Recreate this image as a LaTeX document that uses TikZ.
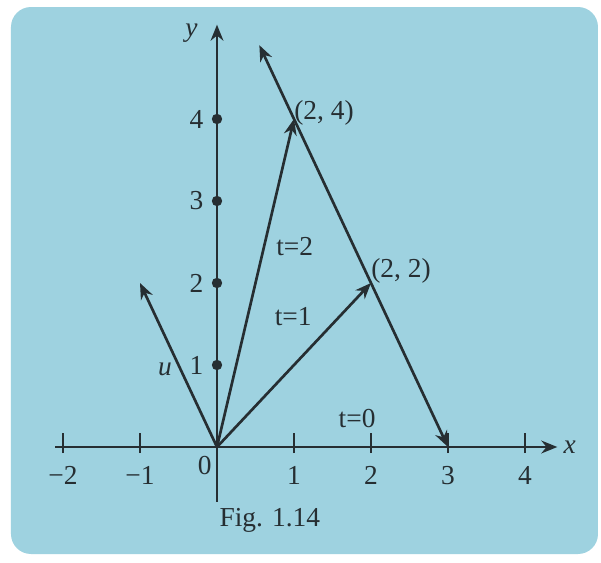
\documentclass[tikz,border=0pt]{standalone}
\usepackage{fontspec}
\setmainfont{Liberation Serif}
\usetikzlibrary{arrows.meta,positioning}
\definecolor{figBlue}{RGB}{158, 210, 224}
\definecolor{figInk}{RGB}{38, 46, 50}

\begin{document}
\begin{tikzpicture}[
  x=1.925cm, y=2.05cm,
  axis/.style={draw=figInk, line width=1.8pt},
  vec/.style={draw=figInk, line width=1.9pt, -{Stealth[length=4mm,width=3.2mm]}},
  dvec/.style={vec, {Stealth[length=4mm,width=3.2mm]}-{Stealth[length=4mm,width=3.2mm]}},
  lbl/.style={text=figInk, font=\fontsize{19.5}{21}\selectfont, inner sep=0pt},
  dot/.style={circle, fill=figInk, inner sep=0pt, minimum size=2.6mm}
]
\useasboundingbox (-5.425cm,-2.9cm) rectangle (9.6cm,11.175cm);
\fill[white] (-5.425cm,-2.9cm) rectangle (9.6cm,11.175cm);
\fill[figBlue, rounded corners=0.5cm] (-5.15cm,-2.675cm) rectangle (9.525cm,11cm);

\coordinate (O) at (0,0);
\coordinate (xs) at (-2.1,0);
\coordinate (xe) at (4.42,0);
\coordinate (ys) at (0,-0.67);
\coordinate (ye) at (0,5.15);
\draw[axis, -{Stealth[length=4mm,width=3.2mm]}] (xs) -- (xe);
\draw[axis, -{Stealth[length=4mm,width=3.2mm]}] (ys) -- (ye);
\node[lbl, right=0.15cm of xe] (xl) {\textit{x}};
\node[lbl] (yl) at (-0.33,5.05) {\textit{y}};

\foreach \i/\t [count=\k] in {-2/−2,-1/−1,1/1,2/2,3/3,4/4} {
  \draw[axis] (\i,-0.075) -- (\i,0.17);
  \node[lbl] (xt\k) at (\i,-0.35) {\t};
}
\node[lbl] (o) at (-0.16,-0.22) {0};

\foreach \j in {1,...,4} {
  \node[dot] (yd\j) at (0,\j) {};
  \node[lbl, left=0.2cm of yd\j] (yt\j) {\j};
}

\coordinate (A) at (3,0);
\coordinate (B) at (2,2);
\coordinate (C) at (1,4);
\coordinate (D) at (0.55,4.9);
\coordinate (U) at (-1,2);
\draw[vec] (O) -- (U);
\draw[vec] (O) -- (C);
\draw[vec] (O) -- (B);
\draw[dvec] (D) -- (A);

\node[lbl, anchor=west] (Cl) at (1,4.07) {(2, 4)};
\node[lbl, anchor=west] (Bl) at (2,2.15) {(2, 2)};
\node[lbl] (t2) at (1.01,2.44) {t=2};
\node[lbl] (t1) at (0.99,1.59) {t=1};
\node[lbl] (t0) at (1.82,0.35) {t=0};
\node[lbl] (ul) at (-0.675,0.95) {\textit{u}};
\node[lbl, anchor=west] (cap) at (0.03,-0.89) {Fig. 1.14};
\end{tikzpicture}
\end{document}
